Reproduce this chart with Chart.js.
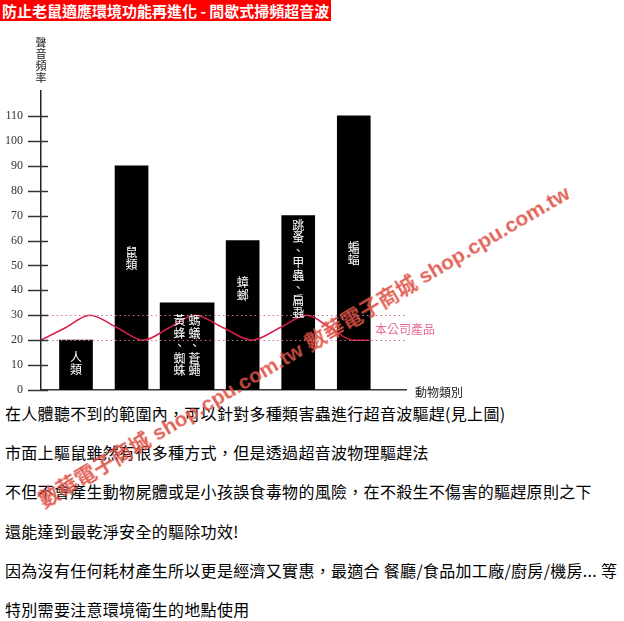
<!DOCTYPE html>
<html>
<head>
<meta charset="utf-8">
<script src="https://cdn.jsdelivr.net/npm/chart.js@4"></script>
<style>
body { margin: 0; width: 624px; height: 621px; background: #fff; position: relative; overflow: hidden; font-family: "Noto Sans CJK TC", sans-serif; }
#head { position: absolute; left: 0; top: 0; height: 21px; line-height: 21px; background: #f00; color: #fff; font-weight: bold; font-size: 15px; padding: 0 2px; white-space: nowrap; }
.line { position: absolute; left: 5px; font-size: 16px; line-height: 22px; letter-spacing: 0.3px; color: #000; white-space: nowrap; }
#chart { position: absolute; left: 0; top: 0; }
#mark { position: absolute; left: 303px; top: 345px; transform: translate(-50%, -50%) rotate(-30.5deg); font: bold 21px "Liberation Sans", "Noto Sans CJK TC", sans-serif; color: rgba(222, 82, 70, 0.9); white-space: nowrap; }
</style>
</head>
<body>
<div id="head">防止老鼠適應環境功能再進化 - 間歇式掃頻超音波</div>

<div class="line" style="top:402px">在人體聽不到的範圍內，可以針對多種類害蟲進行超音波驅趕(見上圖)</div>
<div class="line" style="top:441px">市面上驅鼠雖然有很多種方式，但是透過超音波物理驅趕法</div>
<div class="line" style="top:480px">不但不會產生動物屍體或是小孩誤食毒物的風險，在不殺生不傷害的驅趕原則之下</div>
<div class="line" style="top:520px">還能達到最乾淨安全的驅除功效!</div>
<div class="line" style="top:559px">因為沒有任何耗材產生所以更是經濟又實惠，最適合 餐廳/食品加工廠/廚房/機房... 等</div>
<div class="line" style="top:598px">特別需要注意環境衛生的地點使用</div>

<canvas id="chart" width="624" height="621"></canvas>

<div id="mark">數華電子商城 shop.cpu.com.tw 數華電子商城 shop.cpu.com.tw</div>

<script>
// animal groups, one entry per column of vertical text inside the bar
const animalLabels = [['人類'], ['鼠類'], ['黃蜂、蜘蛛', '螞蟻、蒼蠅'], ['蟑螂'], ['跳蚤、甲蟲、扁蝨'], ['蝙蝠']];
const hearingLimit = [20, 90, 35, 60, 70, 110];
const freqTicks = [0, 10, 20, 30, 40, 50, 60, 70, 80, 90, 100, 110];

// product sweep band and the sweep curve
const productRange = [20, 30];
const waveX = [-0.63, -0.19, 0.25, 0.74, 1.21, 1.68, 2.14, 2.65, 3.17, 3.67, 4.16, 4.57, 4.99, 5.28];
const waveY = [20, 25, 30, 25, 20, 25, 30, 25, 20, 25, 30, 25, 20, 20];

const yTitle = '聲音頻率';
const xTitle = '動物類別';
const productLabel = '本公司產品';


const narrowBars = [];
const wideBars = [];
hearingLimit.forEach((v, i) => {
    (animalLabels[i].length > 1 ? wideBars : narrowBars).push({ x: i, y: v });
});
const wave = waveX.map((x, i) => ({ x: x, y: waveY[i] }));


function drawColumn(ctx, text, cx, cy, step) {
    const chars = [...text];
    const start = cy - (chars.length - 1) / 2 * step;
    chars.forEach((c, k) => ctx.fillText(c, cx, start + k * step));
}


const decor = {
    id: 'decor',
    afterDatasetsDraw(chart, args, opts) {
        const { ctx, chartArea: a, scales: { x, y } } = chart;
        ctx.save();

        /*band lines*/
        ctx.strokeStyle = '#c8709a';
        ctx.lineWidth = 1;
        ctx.setLineDash([1.5, 3]);
        productRange.forEach(v => {
            const py = Math.round(y.getPixelForValue(v)) + 0.5;
            ctx.beginPath();
            ctx.moveTo(a.left + 2, py);
            ctx.lineTo(a.right, py);
            ctx.stroke();
        });
        ctx.setLineDash([]);

        /*tick marks crossing the y axis*/
        ctx.strokeStyle = '#333';
        ctx.lineWidth = 1.5;
        freqTicks.forEach(v => {
            const py = Math.round(y.getPixelForValue(v)) + 0.5;
            ctx.beginPath();
            ctx.moveTo(a.left - 13, py);
            ctx.lineTo(a.left + 7, py);
            ctx.stroke();
        });

        /*labels inside the bars*/
        ctx.fillStyle = '#fff';
        ctx.font = '12px "Noto Sans CJK TC"';
        ctx.textAlign = 'center';
        ctx.textBaseline = 'middle';
        animalLabels.forEach((cols, i) => {
            const cx = x.getPixelForValue(i);
            const cy = y.getPixelForValue(opts.labelAt[i]);
            cols.forEach((col, c) => {
                drawColumn(ctx, col, cx + (c - (cols.length - 1) / 2) * 15, cy, 12.5);
            });
        });

        /*axis titles*/
        ctx.fillStyle = '#222';
        ctx.font = '11px "Noto Sans CJK TC"';
        drawColumn(ctx, yTitle, a.left, a.top - 31, 11.7);
        ctx.textAlign = 'left';
        ctx.font = '12px "Noto Sans CJK TC"';
        ctx.fillText(xTitle, a.right + 9, a.bottom + 2);

        ctx.fillStyle = '#e66a9a';
        ctx.fillText(productLabel, a.right - 31, y.getPixelForValue(24.3));
        ctx.restore();
    }
};


new Chart(document.getElementById('chart'), {
    type: 'bar',
    data: {
        datasets: [
            { type: 'line', data: wave, borderColor: '#d81e48', borderWidth: 1.5, pointRadius: 0, cubicInterpolationMode: 'monotone', order: 0 },
            { data: narrowBars, backgroundColor: '#000', barThickness: 33, grouped: false, order: 1 },
            { data: wideBars, backgroundColor: '#000', barThickness: 54, grouped: false, order: 1 }
        ]
    },
    options: {
        responsive: false,
        devicePixelRatio: 1,
        animation: false,
        layout: { padding: { top: 91, right: 218, bottom: 221, left: 0 } },
        plugins: {
            legend: { display: false },
            tooltip: { enabled: false },
            decor: { labelAt: [10.6, 52.8, 17.7, 40.6, 48.5, 54.8] }
        },
        scales: {
            x: {
                type: 'linear',
                offset: false,
                min: -0.63,
                max: 5.94,
                afterFit: s => { s.height = 10; },
                ticks: { display: false },
                grid: { display: false, drawTicks: false, offset: false },
                border: { color: '#333', width: 1.5 }
            },
            y: {
                min: 0,
                max: 120,
                afterFit: s => { s.width = 41; },
                afterBuildTicks: s => { s.ticks = freqTicks.map(v => ({ value: v })); },
                grid: { display: false, drawTicks: false },
                border: { color: '#222', width: 1.5 },
                ticks: { padding: 18, color: '#333', font: { family: 'Liberation Serif', size: 12 } }
            }
        }
    },
    plugins: [decor]
});
</script>
</body>
</html>
